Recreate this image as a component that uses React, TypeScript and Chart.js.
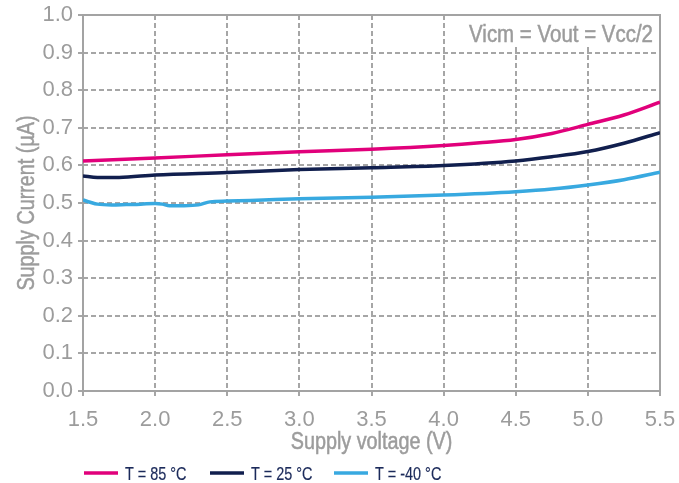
import { useEffect, useRef } from "react";
import { Chart, registerables } from "chart.js";

Chart.register(...registerables);

// ---- data ----
const xTickValues = [1.5, 2.0, 2.5, 3.0, 3.5, 4.0, 4.5, 5.0, 5.5];
const yTickValues = [0.0, 0.1, 0.2, 0.3, 0.4, 0.5, 0.6, 0.7, 0.8, 0.9, 1.0];

const seriesLabels = ["T = 85 °C", "T = 25 °C", "T = -40 °C"];
const seriesColors = ["#e1007b", "#111f4e", "#38a9e0"];

const v85 = [1.5, 2.0, 2.5, 3.0, 3.5, 4.0, 4.25, 4.5, 4.75, 5.0, 5.25, 5.5];
const i85 = [0.612, 0.62, 0.628, 0.636, 0.643, 0.653, 0.66, 0.669, 0.685, 0.709, 0.734, 0.768];

const v25 = [1.5, 1.6, 1.75, 2.0, 2.5, 3.0, 3.5, 4.0, 4.5, 4.75, 5.0, 5.25, 5.5];
const i25 = [0.572, 0.568, 0.568, 0.5745, 0.581, 0.589, 0.594, 0.6, 0.612, 0.623, 0.637, 0.659, 0.687];

const vm40 = [1.5, 1.55, 1.6, 1.7, 1.8, 1.9, 2.0, 2.05, 2.1, 2.2, 2.3, 2.38, 2.5, 2.75, 3.0, 3.5, 4.0, 4.5, 4.75, 5.0, 5.25, 5.5];
const im40 = [0.508, 0.502, 0.497, 0.495, 0.496, 0.497, 0.499, 0.497, 0.493, 0.493, 0.495, 0.503, 0.505, 0.508, 0.511, 0.515, 0.521, 0.53, 0.537, 0.548, 0.562, 0.582];

const annotationText = "Vicm = Vout = Vcc/2";
const xTitle = "Supply voltage (V)";
const yTitle = "Supply Current (µA)";

// ---- styles ----
const REGULAR = "'Liberation Sans', Arial, sans-serif";
const TEXT_GRAY = "#9c9c9c";
const GRID_GRAY = "#a6a6a6";
const FRAME_GRAY = "#a3a3a3";
const LEGEND_TEXT = "#1b2a5a";

const toPoints = (xs: number[], ys: number[]) => xs.map((x, i) => ({ x, y: ys[i] }));

// draw horizontally condensed text (the original uses a condensed typeface)
const condensedText = (
  ctx: CanvasRenderingContext2D,
  text: string,
  x: number,
  y: number,
  size: number,
  sx: number,
  align: CanvasTextAlign,
  color: string,
  rotate = 0,
  weight = 0.5
) => {
  ctx.save();
  ctx.translate(x, y);
  if (rotate) ctx.rotate(rotate);
  ctx.scale(sx, 1);
  ctx.font = `${size}px ${REGULAR}`;
  ctx.fillStyle = color;
  ctx.strokeStyle = color;
  ctx.lineWidth = weight;
  ctx.textAlign = align;
  ctx.textBaseline = "alphabetic";
  ctx.fillText(text, 0, 0);
  if (weight > 0) ctx.strokeText(text, 0, 0);
  ctx.restore();
};

const framePlugin = {
  id: "frameAndLegend",
  beforeDatasetsDraw(chart: any) {
    const { ctx, chartArea: a } = chart;
    ctx.save();
    // white box behind the condition note (hides grid lines there)
    ctx.fillStyle = "#ffffff";
    ctx.fillRect(a.right - 198, a.top + 1, 197, 31);
    ctx.strokeStyle = FRAME_GRAY;
    ctx.lineWidth = 2;
    ctx.setLineDash([]);
    ctx.strokeRect(a.left, a.top, a.right - a.left, a.bottom - a.top);
    ctx.restore();
  },
  afterDraw(chart: any) {
    const { ctx, chartArea: a } = chart;
    // annotation
    condensedText(ctx, annotationText, a.right - 7, a.top + 27, 23, 0.89, "right", TEXT_GRAY);
    // axis titles
    condensedText(ctx, xTitle, (a.left + a.right) / 2, 449, 23, 0.86, "center", TEXT_GRAY);
    condensedText(ctx, yTitle, 34, (a.top + a.bottom) / 2, 23, 0.86, "center", TEXT_GRAY, -Math.PI / 2);

    // legend
    const starts = [84, 210, 334];
    const ly = 473;
    chart.data.datasets.forEach((ds: any, i: number) => {
      const x0 = starts[i];
      ctx.save();
      ctx.strokeStyle = ds.borderColor;
      ctx.lineWidth = 3.5;
      ctx.beginPath();
      ctx.moveTo(x0, ly);
      ctx.lineTo(x0 + 34, ly);
      ctx.stroke();
      ctx.restore();
      condensedText(ctx, ds.label, x0 + 41, ly + 6.5, 18.5, 0.78, "left", LEGEND_TEXT, 0, 0.2);
    });
  },
};

export default function App() {
  const ref = useRef<HTMLCanvasElement | null>(null);

  useEffect(() => {
    if (!ref.current) return;
    const chart = new Chart(ref.current, {
      type: "line",
      data: {
        datasets: [
          { label: seriesLabels[0], data: toPoints(v85, i85), borderColor: seriesColors[0] },
          { label: seriesLabels[1], data: toPoints(v25, i25), borderColor: seriesColors[1] },
          { label: seriesLabels[2], data: toPoints(vm40, im40), borderColor: seriesColors[2] },
        ].map((d) => ({
          ...d,
          borderWidth: 3.5,
          pointRadius: 0,
          fill: false,
          cubicInterpolationMode: "monotone" as const,
        })),
      },
      options: {
        responsive: false,
        animation: false,
        devicePixelRatio: 1,
        layout: { padding: { left: 0, right: 19, top: 15, bottom: 26 } },
        plugins: { legend: { display: false }, tooltip: { enabled: false } },
        scales: {
          x: {
            type: "linear",
            min: xTickValues[0],
            max: xTickValues[xTickValues.length - 1],
            afterBuildTicks: (scale: any) => {
              scale.ticks = xTickValues.map((v) => ({ value: v }));
            },
            afterFit: (scale: any) => {
              scale.height = 66;
              scale.paddingLeft = 0;
              scale.paddingRight = 0;
            },
            ticks: {
              autoSkip: false,
              maxRotation: 0,
              padding: 11,
              color: TEXT_GRAY,
              font: { family: REGULAR, size: 22 },
              callback: (v: any) => Number(v).toFixed(1),
            },
            grid: {
              color: GRID_GRAY,
              lineWidth: 2,
              tickLength: 5,
              tickBorderDash: [],
            },
            border: { display: false, dash: [5, 3] },
          },
          y: {
            type: "linear",
            min: yTickValues[0],
            max: yTickValues[yTickValues.length - 1],
            afterBuildTicks: (scale: any) => {
              scale.ticks = yTickValues.map((v) => ({ value: v }));
            },
            afterFit: (scale: any) => {
              scale.width = 83;
              scale.paddingTop = 0;
              scale.paddingBottom = 0;
            },
            ticks: {
              autoSkip: false,
              padding: 5,
              color: TEXT_GRAY,
              font: { family: REGULAR, size: 22 },
              callback: (v: any) => Number(v).toFixed(1),
            },
            grid: {
              color: GRID_GRAY,
              lineWidth: 2,
              tickLength: 5,
              tickBorderDash: [],
            },
            border: { display: false, dash: [5, 3] },
          },
        },
      },
      plugins: [framePlugin],
    });
    return () => chart.destroy();
  }, []);

  return (
    <div style={{ position: "fixed", left: 0, top: 0, width: 679, height: 483, background: "#fff" }}>
      <canvas ref={ref} width={679} height={483} style={{ width: 679, height: 483, display: "block" }} />
    </div>
  );
}
